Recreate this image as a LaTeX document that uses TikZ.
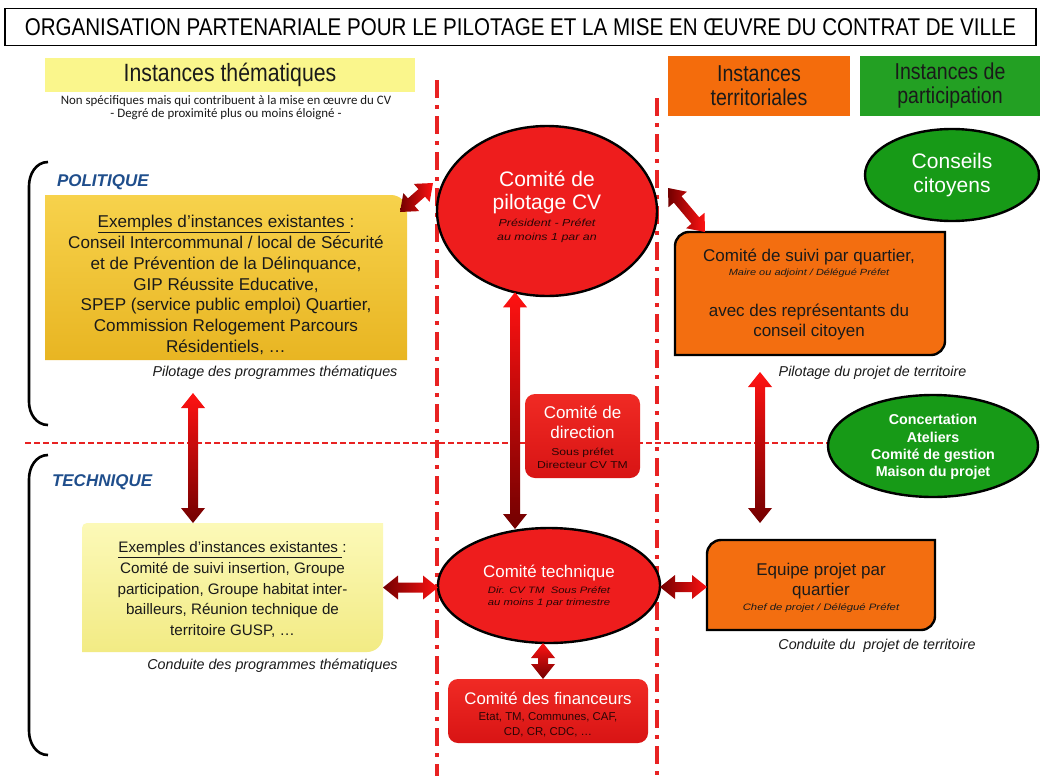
\documentclass[tikz,border=0pt]{standalone}
\usepackage{fontspec}
\setmainfont{Liberation Sans}
\newfontfamily\narrowfont[FakeStretch=0.85]{Liberation Sans}
\newfontfamily\widefont[FakeStretch=1.22]{Liberation Sans}
\newfontfamily\calibfont{Carlito}
\usetikzlibrary{calc,shapes.geometric}
\newcommand\fs[2]{\fontsize{#1}{#2}\selectfont}
\definecolor{ink}{HTML}{1A1A1A}
\definecolor{subink}{HTML}{2A0505}
\definecolor{redE}{HTML}{EE1D1D}
\definecolor{redT}{HTML}{F02A24}
\definecolor{redB}{HTML}{D81414}
\definecolor{arrL}{HTML}{FF1212}
\definecolor{arrD}{HTML}{720000}
\definecolor{orangeA}{HTML}{F36E10}
\definecolor{orangeH}{HTML}{F46C0C}
\definecolor{greenE}{HTML}{179A17}
\definecolor{greenH}{HTML}{23A023}
\definecolor{yellowH}{HTML}{FAF68C}
\definecolor{goldT}{HTML}{F7D24C}
\definecolor{goldB}{HTML}{E8B522}
\definecolor{lyT}{HTML}{FCF9B8}
\definecolor{lyB}{HTML}{F2EB84}
\definecolor{blueT}{HTML}{1F4E8C}
\definecolor{dashred}{HTML}{E82222}
\newcommand\dblarrow[3]{%
  \path[#1]
    (#2)
    -- ($($(#2)!15pt!(#3)$)!12pt!90:(#3)$)
    -- ($($(#2)!15pt!(#3)$)!5pt!90:(#3)$)
    -- ($($(#3)!15pt!(#2)$)!5pt!-90:(#2)$)
    -- ($($(#3)!15pt!(#2)$)!12pt!-90:(#2)$)
    -- (#3)
    -- ($($(#3)!15pt!(#2)$)!12pt!90:(#2)$)
    -- ($($(#3)!15pt!(#2)$)!5pt!90:(#2)$)
    -- ($($(#2)!15pt!(#3)$)!5pt!-90:(#3)$)
    -- ($($(#2)!15pt!(#3)$)!12pt!-90:(#3)$)
    -- cycle;}
\begin{document}
\begin{tikzpicture}[x=1pt,y=1pt,
  every node/.style={inner sep=0pt,outer sep=0pt},
  zone/.style 2 args={minimum width=#1,minimum height=#2},
  txt/.style={align=center,text=ink},
  wtxt/.style={align=center,text=white},
  stxt/.style={align=center,text=subink},
  vline/.style={draw=dashred,line width=4pt,dash pattern=on 18pt off 7pt on 4pt off 7pt},
  hline/.style={draw=dashred,line width=1.8pt,dash pattern=on 6pt off 3pt},
  bracket/.style={draw=black,line width=2.6pt},
  redell/.style={ellipse,draw=black,line width=2.4pt,fill=redE},
  greenell/.style={ellipse,draw=black,line width=2.4pt,fill=greenE},
  redbox/.style={rounded corners=10pt,top color=redT,bottom color=redB},
  orangeshape/.style={fill=orangeA,draw=black,line width=2.4pt},
  caption/.style={font=\itshape\fs{14.3}{16},text=ink},
  section/.style={font=\bfseries\itshape\fs{17}{20},text=blueT,anchor=west},
  arrowv/.style={top color=arrL,bottom color=arrD},
  arrowh/.style={left color=arrD,right color=arrL},
]
\fill[white] (0,0) rectangle (1040,-776);
\useasboundingbox (0,0) rectangle (1040,-776);

% title
\node[draw=black,line width=1.6pt,zone={1031pt}{37pt},font=\narrowfont\fs{24.2}{27}] (title) at (520.5,-27)
  {ORGANISATION PARTENARIALE POUR LE PILOTAGE ET LA MISE EN ŒUVRE DU CONTRAT DE VILLE};

% headers
\node[fill=yellowH,zone={370pt}{34pt},text=ink,font=\narrowfont\fs{25}{27}] (hthem) at (230,-75)
  {Instances thématiques};
\node[txt,font=\calibfont\fs{12.9}{13}] (hsub) at (226,-108)
  {Non spécifiques mais qui contribuent à la mise en œuvre du CV\\- Degré de proximité plus ou moins éloigné -};
\node[fill=orangeH,zone={182pt}{60pt},txt,font=\narrowfont\fs{23}{24}] (hterr) at (759,-86)
  {Instances\\territoriales};
\node[fill=greenH,zone={180pt}{60pt},txt,font=\narrowfont\fs{23}{24}] (hpart) at (950,-86)
  {Instances de\\participation};

% separators
\coordinate (v1t) at (437,-80);  \coordinate (v1b) at (437,-776);
\coordinate (v2t) at (657,-98);  \coordinate (v2b) at (657,-776);
\coordinate (h1l) at (25,-443);  \coordinate (h1r) at (832,-443);
\draw[hline] (h1l) -- (h1r);
\draw[vline] (v1t) -- (v1b);
\draw[vline] (v2t) -- (v2b);

% brackets
\draw[bracket] (48,-162) to[out=180,in=90] (29,-186) -- (29,-402) to[out=-90,in=180] (48,-425);
\draw[bracket] (48,-455) to[out=180,in=90] (29,-479) -- (29,-731) to[out=-90,in=180] (48,-755);
\node[section] (pol) at (57,-182) {POLITIQUE};
\node[section] (tec) at (52,-482) {TECHNIQUE};

% gold box (politique)
\node[zone={362pt}{165pt}] (gold) at (226,-277.5) {};
\path[top color=goldT,bottom color=goldB]
  (gold.south west) -- (gold.north west) -- ([xshift=-16pt]gold.north east)
  arc[start angle=90,end angle=0,radius=16pt] -- (gold.south east) -- cycle;
\node[txt,font=\fs{17.1}{20.8}] (goldtxt) at (226,-285) {\underline{Exemples d’instances existantes\ }:\\
  Conseil Intercommunal / local de Sécurité\\
  et de Prévention de la Délinquance,\\
  GIP Réussite Educative,\\
  SPEP (service public emploi) Quartier,\\
  Commission Relogement Parcours\\
  Résidentiels, …};
\node[caption] (cap1) at (275,-373) {Pilotage des programmes thématiques};

% light yellow box (technique)
\node[zone={301pt}{129pt}] (ly) at (232.5,-587.5) {};
\path[top color=lyT,bottom color=lyB]
  (ly.north east) -- ([xshift=5pt]ly.north west)
  arc[start angle=90,end angle=180,radius=5pt] -- (ly.south west)
  -- ([xshift=-16pt]ly.south east) arc[start angle=270,end angle=360,radius=16pt] -- cycle;
\node[txt,font=\fs{15.2}{20.75}] (lytxt) at (232.5,-589.5) {\underline{Exemples d’instances existantes\ }:\\
  Comité de suivi insertion, Groupe\\
  participation, Groupe habitat inter-\\
  bailleurs, Réunion technique de\\
  territoire GUSP, …};
\node[caption] (cap2) at (272.5,-666) {Conduite des programmes thématiques};

% comite de pilotage
\node[redell,zone={220pt}{170pt}] (pil) at (547,-211) {};
\node[wtxt,font=\fs{21}{23}] (piltit) at (547,-192) {Comité de\\pilotage CV};
\node[stxt,font=\widefont\itshape\fs{10.2}{14}] (pilsub) at (547,-231) {Président - Préfet\\au moins 1 par an};

% comite de direction
\node[redbox,zone={115pt}{84pt}] (dir) at (582.5,-436) {};
\node[wtxt,font=\fs{17}{20}] (dirtit) at (582.5,-422) {Comité de\\direction};
\node[stxt,font=\widefont\fs{10}{13}] (dirsub) at (582.5,-458) {Sous préfet\\Directeur CV TM};

% comite technique
\node[redell,zone={222pt}{115pt}] (tech) at (549,-585.5) {};
\node[wtxt,font=\fs{16.9}{19}] (techtit) at (549,-573) {Comité technique};
\node[stxt,font=\widefont\itshape\fs{9.3}{12.5}] (techsub) at (549,-597) {Dir. CV TM~ Sous Préfet\\au moins 1 par trimestre};

% comite des financeurs
\node[redbox,zone={200pt}{64pt}] (fin) at (548,-711) {};
\node[wtxt,font=\fs{16.8}{19}] (fintit) at (548,-698) {Comité des financeurs};
\node[stxt,font=\fs{11.4}{15}] (finsub) at (548,-724.5) {Etat, TM, Communes, CAF,\\CD, CR, CDC, …};

% comite de suivi par quartier
\node[zone={270pt}{123pt}] (suivi) at (810,-293.5) {};
\path[orangeshape] (suivi.north east) -- ([xshift=14pt]suivi.north west)
  arc[start angle=90,end angle=180,radius=14pt] -- (suivi.south west)
  -- ([xshift=-14pt]suivi.south east) arc[start angle=270,end angle=360,radius=14pt] -- cycle;
\node[txt,font=\fs{17}{19}] (suivitit) at (809,-257) {Comité de suivi par quartier,};
\node[txt,font=\widefont\itshape\fs{9}{10}] (suivisub) at (809,-273) {Maire ou adjoint / Délégué Préfet};
\node[txt,font=\fs{17}{20}] (suivitxt) at (809,-322) {avec des représentants du\\conseil citoyen};
\node[caption] (cap3) at (872.5,-373) {Pilotage du projet de territoire};

% conseils citoyens
\node[greenell,zone={174pt}{92pt}] (cons) at (952,-175) {};
\node[wtxt,font=\fs{21}{24}] (constxt) at (952,-175) {Conseils\\citoyens};

% concertation
\node[greenell,zone={210pt}{102pt}] (conc) at (933,-446) {};
\node[wtxt,font=\bfseries\fs{14.3}{17.3}] (conctxt) at (933,-447) {Concertation\\Ateliers\\Comité de gestion\\Maison du projet};

% equipe projet
\node[zone={228pt}{90pt}] (equipe) at (821,-585) {};
\path[orangeshape] (equipe.north east) -- ([xshift=14pt]equipe.north west)
  arc[start angle=90,end angle=180,radius=14pt] -- (equipe.south west)
  -- ([xshift=-14pt]equipe.south east) arc[start angle=270,end angle=360,radius=14pt] -- cycle;
\node[txt,font=\fs{17}{20}] (equitit) at (821,-581) {Equipe projet par\\quartier};
\node[txt,font=\widefont\itshape\fs{9.3}{12}] (equisub) at (821,-608) {Chef de projet / Délégué Préfet};
\node[caption] (cap4) at (877,-646) {Conduite du~ projet de territoire};

% arrows
\coordinate (a1s) at ([xshift=-7pt,yshift=-17pt]gold.north east);
\coordinate (a1e) at ([xshift=-114pt,yshift=28pt]pil.center);
\dblarrow{arrowh}{a1s}{a1e}
\coordinate (a2s) at ([xshift=121pt,yshift=23pt]pil.center);
\coordinate (a2e) at ([xshift=30pt]suivi.north west);
\dblarrow{arrowh}{a2s}{a2e}
\coordinate (a3s) at ([xshift=-33pt,yshift=-33pt]gold.south);
\coordinate (a3e) at ([xshift=-39.5pt]ly.north);
\dblarrow{arrowv}{a3s}{a3e}
\coordinate (a4s) at ([xshift=-32pt,yshift=3.7pt]pil.south);
\coordinate (a4e) at ([xshift=-34pt,yshift=-1pt]tech.north);
\dblarrow{arrowv}{a4s}{a4e}
\coordinate (a5s) at (ly.east);
\coordinate (a5e) at (ly.east -| tech.west);
\dblarrow{arrowh}{a5s}{a5e}
\coordinate (a6s) at ([yshift=-1.5pt]tech.east);
\coordinate (a6e) at (a6s -| equipe.west);
\dblarrow{arrowh}{a6s}{a6e}
\coordinate (a7s) at ([xshift=-6pt]tech.south);
\coordinate (a7e) at (fin.north -| a7s);
\dblarrow{arrowv}{a7s}{a7e}
\coordinate (a8s) at ([xshift=-50pt,yshift=-17pt]suivi.south);
\coordinate (a8e) at ([xshift=-61pt,yshift=17pt]equipe.north);
\dblarrow{arrowv}{a8s}{a8e}
\end{tikzpicture}
\end{document}
